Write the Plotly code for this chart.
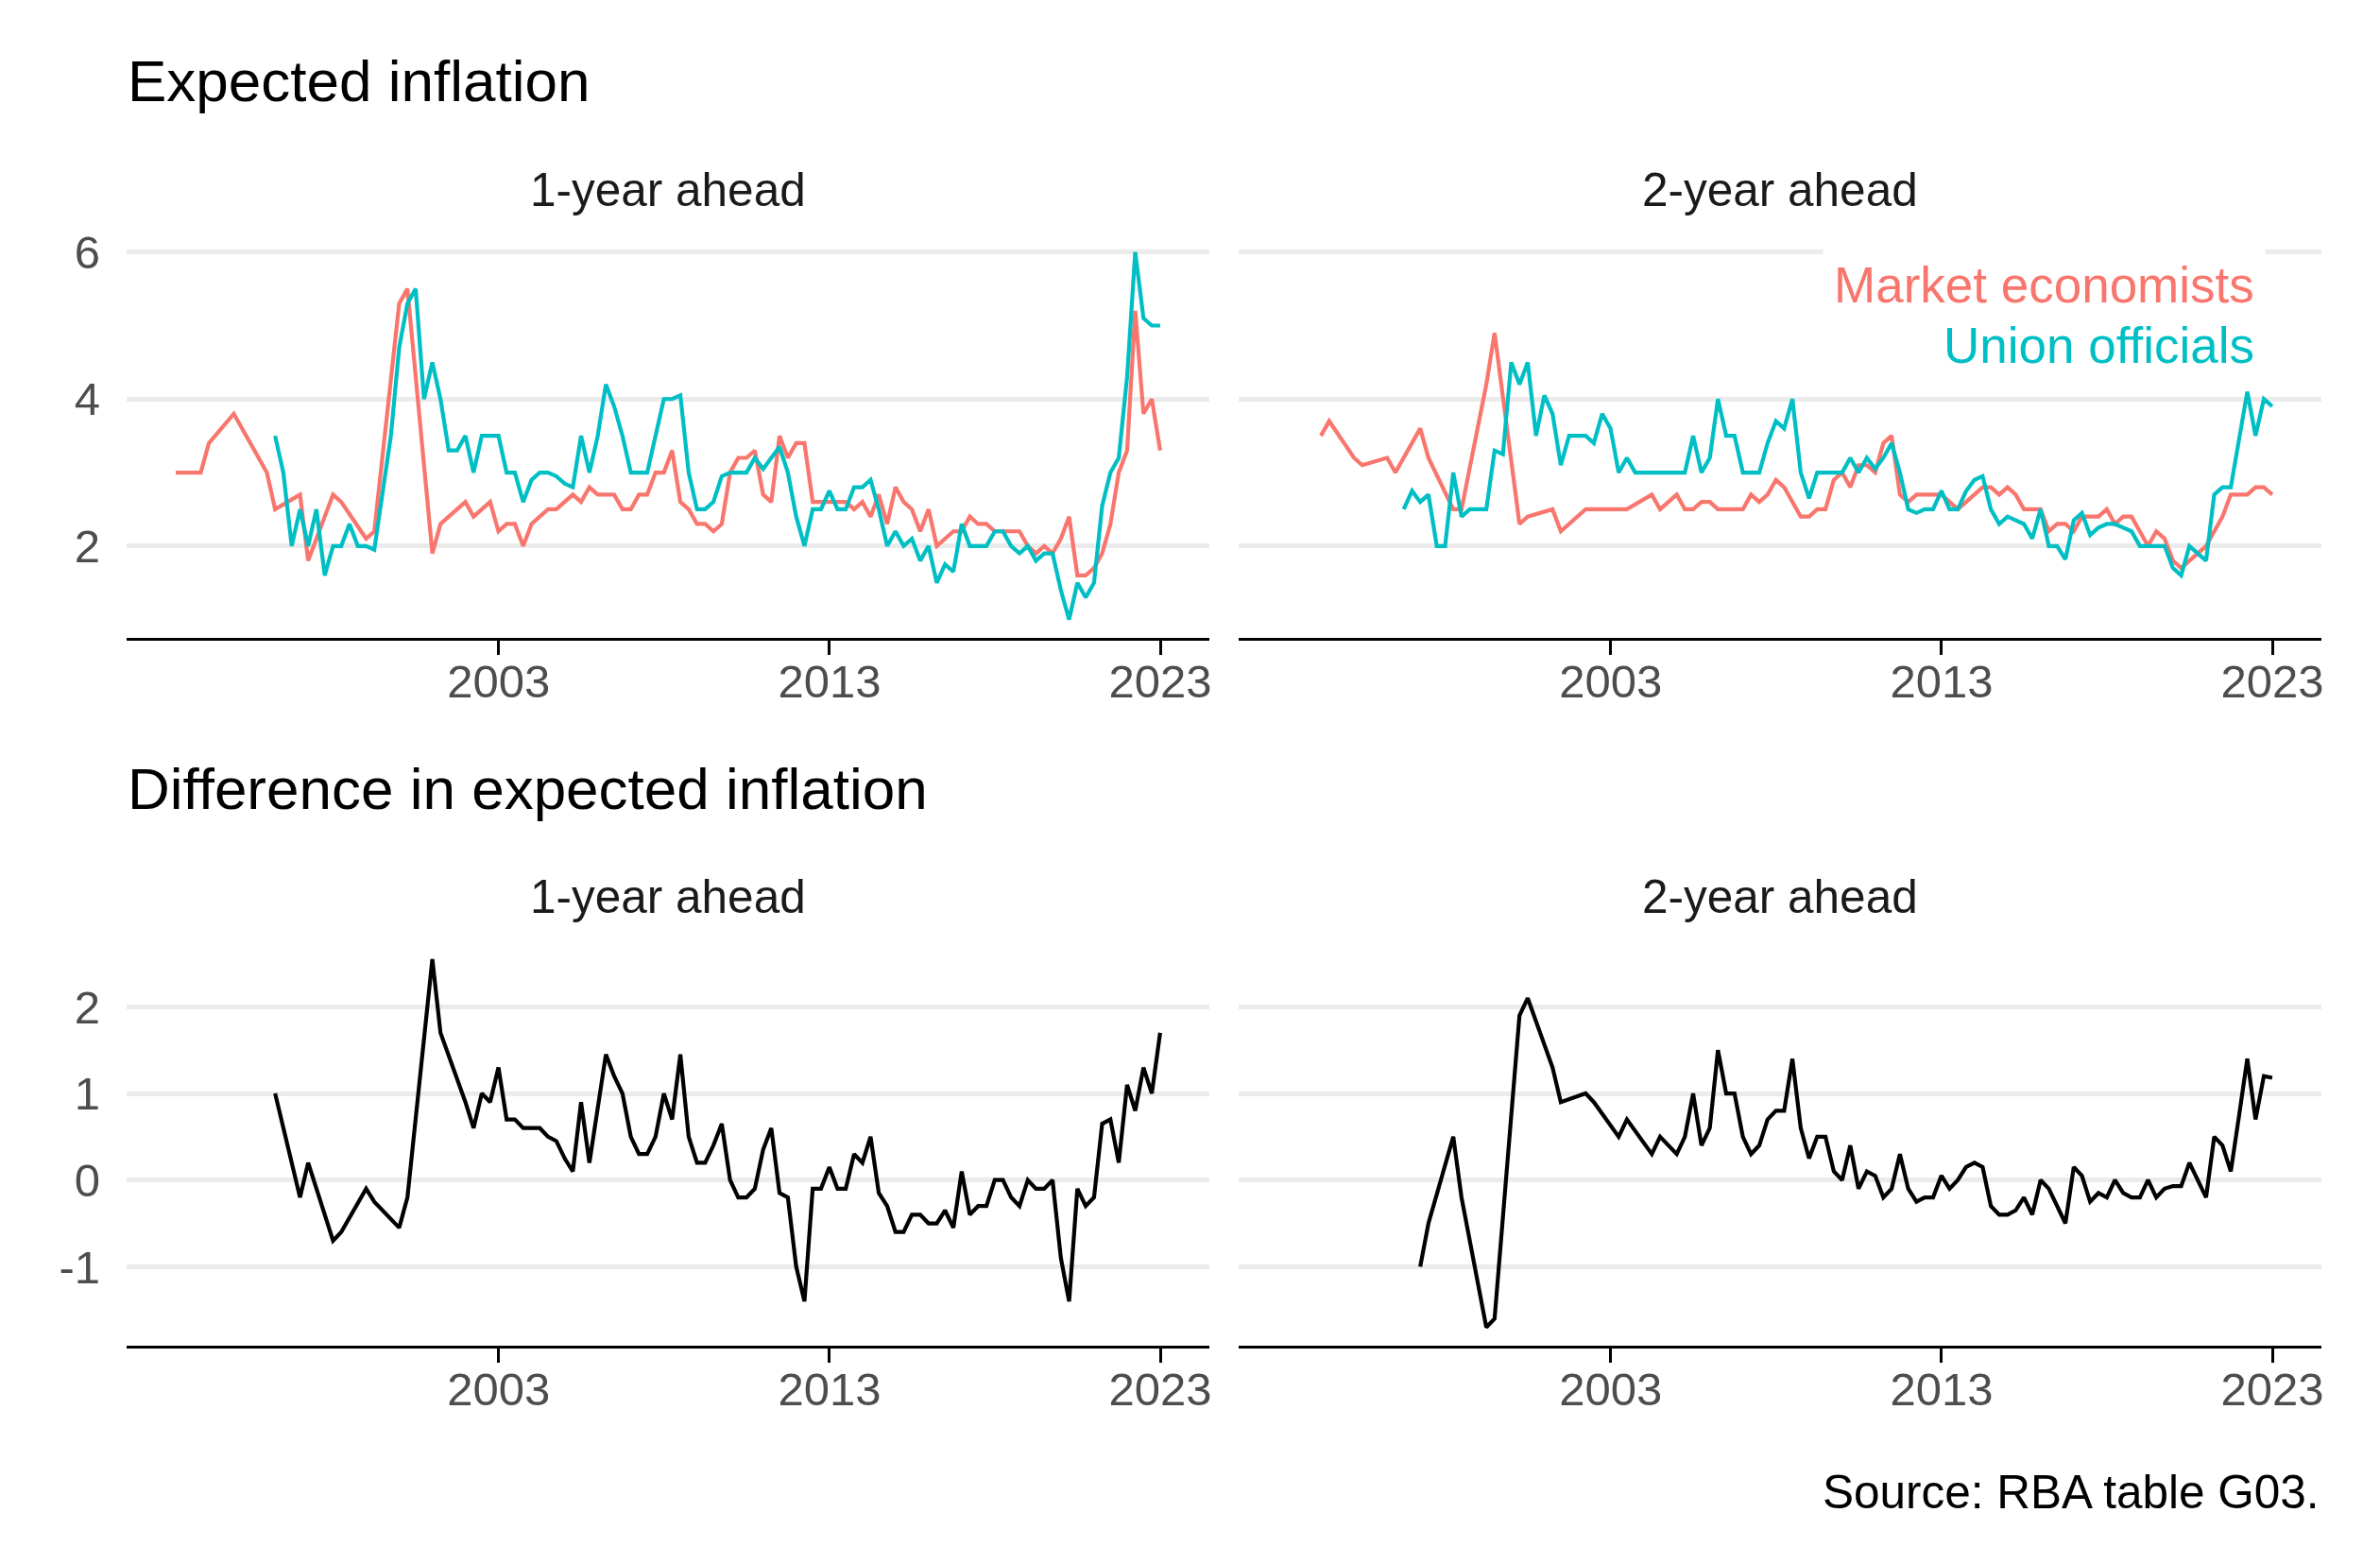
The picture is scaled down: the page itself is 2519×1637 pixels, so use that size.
import numpy as np
import pandas as pd
import plotly.graph_objects as go

# ---------------- data ----------------
series_names = ["Market economists", "Union officials"]
x_tick_years = [2003, 2013, 2023]
top_y_ticks = [2, 4, 6]
top_y_labels = ["2", "4", "6"]
bottom_y_ticks = [-1, 0, 1, 2]
bottom_y_labels = ["-1", "0", "1", "2"]

# 1-year ahead, market economists
one_year_market_dates = [
    "1993-03-31", "1993-12-31", "1994-03-31", "1994-12-31", "1995-12-31",
    "1996-03-31", "1996-12-31", "1997-03-31", "1997-12-31", "1998-03-31", "1998-12-31",
    "1999-03-31", "1999-12-31", "2000-03-31", "2000-12-31", "2001-03-31", "2001-12-31",
    "2002-03-31", "2002-09-30", "2002-12-31",
    "2003-03-31", "2003-06-30", "2003-09-30", "2003-12-31",
    "2004-06-30", "2004-09-30",
    "2005-03-31", "2005-06-30", "2005-09-30", "2005-12-31",
    "2006-06-30", "2006-09-30", "2006-12-31",
    "2007-03-31", "2007-06-30", "2007-09-30", "2007-12-31",
    "2008-03-31", "2008-06-30", "2008-09-30", "2008-12-31",
    "2009-03-31", "2009-06-30", "2009-09-30", "2009-12-31",
    "2010-03-31", "2010-06-30", "2010-09-30", "2010-12-31",
    "2011-03-31", "2011-06-30", "2011-09-30", "2011-12-31",
    "2012-03-31", "2012-06-30", "2012-09-30",
    "2013-06-30", "2013-09-30", "2013-12-31",
    "2014-03-31", "2014-06-30", "2014-09-30", "2014-12-31",
    "2015-03-31", "2015-06-30", "2015-09-30", "2015-12-31",
    "2016-03-31", "2016-06-30", "2016-09-30", "2016-12-31",
    "2017-03-31", "2017-06-30", "2017-09-30", "2017-12-31",
    "2018-09-30", "2018-12-31",
    "2019-03-31", "2019-06-30", "2019-09-30", "2019-12-31",
    "2020-03-31", "2020-06-30", "2020-09-30", "2020-12-31",
    "2021-03-31", "2021-06-30", "2021-09-30", "2021-12-31",
    "2022-03-31", "2022-06-30", "2022-09-30", "2022-12-31",
]
one_year_market = [
    3.0, 3.0, 3.4, 3.8, 3.0,
    2.5, 2.7, 1.8, 2.7, 2.6, 2.1,
    2.2, 5.3, 5.5, 1.9, 2.3, 2.6,
    2.4, 2.6, 2.2,
    2.3, 2.3, 2.0, 2.3,
    2.5, 2.5,
    2.7, 2.6, 2.8, 2.7,
    2.7, 2.5, 2.5,
    2.7, 2.7, 3.0, 3.0,
    3.3, 2.6, 2.5, 2.3,
    2.3, 2.2, 2.3, 3.0,
    3.2, 3.2, 3.3, 2.7,
    2.6, 3.5, 3.2, 3.4,
    3.4, 2.6, 2.6,
    2.6, 2.5, 2.6,
    2.4, 2.7, 2.3, 2.8,
    2.6, 2.5, 2.2, 2.5,
    2.0, 2.1, 2.2, 2.2,
    2.4, 2.3, 2.3, 2.2,
    2.2, 2.0,
    1.9, 2.0, 1.9, 2.1,
    2.4, 1.6, 1.6, 1.7,
    1.9, 2.3, 3.0, 3.3,
    5.2, 3.8, 4.0, 3.3,
]

# 1-year ahead, union officials
one_year_union_dates = [
    "1996-03-31", "1996-06-30", "1996-09-30", "1996-12-31",
    "1997-03-31", "1997-06-30", "1997-09-30", "1997-12-31",
    "1998-03-31", "1998-06-30", "1998-09-30", "1998-12-31",
    "1999-03-31", "1999-09-30", "1999-12-31",
    "2000-03-31", "2000-06-30", "2000-09-30", "2000-12-31",
    "2001-03-31", "2001-06-30", "2001-09-30", "2001-12-31",
    "2002-03-31", "2002-06-30", "2002-12-31",
    "2003-03-31", "2003-06-30", "2003-09-30", "2003-12-31",
    "2004-03-31", "2004-06-30", "2004-09-30", "2004-12-31",
    "2005-03-31", "2005-06-30", "2005-09-30", "2005-12-31",
    "2006-03-31", "2006-06-30", "2006-09-30", "2006-12-31",
    "2007-06-30", "2007-12-31",
    "2008-03-31", "2008-06-30", "2008-09-30", "2008-12-31",
    "2009-03-31", "2009-06-30", "2009-09-30", "2009-12-31",
    "2010-06-30", "2010-09-30", "2010-12-31",
    "2011-06-30", "2011-09-30", "2011-12-31",
    "2012-03-31", "2012-06-30", "2012-09-30", "2012-12-31",
    "2013-03-31", "2013-06-30", "2013-09-30", "2013-12-31",
    "2014-03-31", "2014-06-30", "2014-09-30", "2014-12-31",
    "2015-03-31", "2015-06-30", "2015-09-30", "2015-12-31",
    "2016-03-31", "2016-06-30", "2016-09-30", "2016-12-31",
    "2017-03-31", "2017-09-30", "2017-12-31",
    "2018-03-31", "2018-06-30", "2018-09-30", "2018-12-31",
    "2019-03-31", "2019-06-30", "2019-09-30", "2019-12-31",
    "2020-03-31", "2020-06-30", "2020-09-30", "2020-12-31",
    "2021-03-31", "2021-06-30", "2021-09-30", "2021-12-31",
    "2022-03-31", "2022-06-30", "2022-09-30", "2022-12-31",
]
one_year_union = [
    3.5, 3.0, 2.0, 2.5,
    2.0, 2.5, 1.6, 2.0,
    2.0, 2.3, 2.0, 2.0,
    1.95, 3.5, 4.7,
    5.3, 5.5, 4.0, 4.5,
    4.0, 3.3, 3.3, 3.5,
    3.0, 3.5, 3.5,
    3.0, 3.0, 2.6, 2.9,
    3.0, 3.0, 2.95, 2.85,
    2.8, 3.5, 3.0, 3.5,
    4.2, 3.9, 3.5, 3.0,
    3.0, 4.0,
    4.0, 4.05, 3.0, 2.5,
    2.5, 2.6, 2.95, 3.0,
    3.0, 3.2, 3.05,
    3.35, 3.0, 2.4,
    2.0, 2.5, 2.5, 2.75,
    2.5, 2.5, 2.8, 2.8,
    2.9, 2.5, 2.0, 2.2,
    2.0, 2.1, 1.8, 2.0,
    1.5, 1.75, 1.65, 2.3,
    2.0, 2.0, 2.2,
    2.2, 2.0, 1.9, 2.0,
    1.8, 1.9, 1.9, 1.4,
    1.0, 1.5, 1.3, 1.5,
    2.55, 3.0, 3.2, 4.3,
    6.0, 5.1, 5.0, 5.0,
]

# 2-year ahead, market economists
two_year_market_dates = [
    "1994-03-31", "1994-06-30", "1995-03-31", "1995-06-30",
    "1996-03-31", "1996-06-30", "1997-03-31", "1997-06-30",
    "1998-03-31", "1998-06-30", "1999-03-31", "1999-06-30",
    "2000-03-31", "2000-06-30", "2001-03-31", "2001-06-30",
    "2002-03-31", "2003-06-30",
    "2004-03-31", "2004-06-30", "2004-12-31",
    "2005-03-31", "2005-06-30", "2005-09-30", "2005-12-31",
    "2006-03-31", "2006-12-31",
    "2007-03-31", "2007-06-30", "2007-09-30", "2007-12-31",
    "2008-03-31", "2008-09-30", "2008-12-31",
    "2009-03-31", "2009-06-30", "2009-09-30", "2009-12-31",
    "2010-03-31", "2010-06-30", "2010-09-30", "2010-12-31",
    "2011-03-31", "2011-06-30", "2011-09-30", "2011-12-31",
    "2012-03-31", "2012-12-31",
    "2013-06-30", "2013-09-30",
    "2014-03-31", "2014-06-30", "2014-09-30", "2014-12-31",
    "2015-03-31", "2015-06-30", "2015-12-31",
    "2016-03-31", "2016-06-30", "2016-09-30", "2016-12-31",
    "2017-03-31", "2017-06-30", "2017-09-30", "2017-12-31",
    "2018-03-31", "2018-06-30", "2018-09-30", "2018-12-31",
    "2019-03-31", "2019-06-30", "2019-09-30", "2019-12-31",
    "2020-03-31", "2020-06-30", "2020-09-30", "2020-12-31",
    "2021-03-31", "2021-06-30", "2021-09-30",
    "2022-03-31", "2022-06-30", "2022-09-30", "2022-12-31",
]
two_year_market = [
    3.5, 3.7, 3.2, 3.1,
    3.2, 3.0, 3.6, 3.2,
    2.5, 2.5, 4.2, 4.9,
    2.3, 2.4, 2.5, 2.2,
    2.5, 2.5,
    2.7, 2.5, 2.7,
    2.5, 2.5, 2.6, 2.6,
    2.5, 2.5,
    2.7, 2.6, 2.7, 2.9,
    2.8, 2.4, 2.4,
    2.5, 2.5, 2.9, 3.0,
    2.8, 3.1, 3.1, 3.0,
    3.4, 3.5, 2.7, 2.6,
    2.7, 2.7,
    2.5, 2.6,
    2.8, 2.8, 2.7, 2.8,
    2.7, 2.5, 2.5,
    2.2, 2.3, 2.3, 2.2,
    2.4, 2.4, 2.4, 2.5,
    2.3, 2.4, 2.4, 2.2,
    2.0, 2.2, 2.1, 1.8,
    1.7, 1.8, 1.9, 2.0,
    2.2, 2.4, 2.7,
    2.7, 2.8, 2.8, 2.7,
]

# 2-year ahead, union officials
two_year_union_dates = [
    "1996-09-30", "1996-12-31",
    "1997-03-31", "1997-06-30", "1997-09-30", "1997-12-31",
    "1998-03-31", "1998-06-30", "1998-09-30",
    "1999-03-31", "1999-06-30", "1999-09-30", "1999-12-31",
    "2000-03-31", "2000-06-30", "2000-09-30", "2000-12-31",
    "2001-03-31", "2001-06-30", "2001-09-30",
    "2002-03-31", "2002-06-30", "2002-09-30", "2002-12-31",
    "2003-03-31", "2003-06-30", "2003-09-30",
    "2005-03-31", "2005-06-30", "2005-09-30", "2005-12-31",
    "2006-03-31", "2006-06-30", "2006-09-30", "2006-12-31",
    "2007-06-30", "2007-09-30", "2007-12-31",
    "2008-03-31", "2008-06-30", "2008-09-30", "2008-12-31",
    "2009-03-31", "2009-12-31",
    "2010-03-31", "2010-06-30", "2010-09-30", "2010-12-31",
    "2011-03-31", "2011-06-30", "2011-09-30", "2011-12-31",
    "2012-03-31", "2012-06-30", "2012-09-30", "2012-12-31",
    "2013-03-31", "2013-06-30", "2013-09-30", "2013-12-31",
    "2014-03-31", "2014-06-30", "2014-09-30", "2014-12-31",
    "2015-06-30", "2015-09-30", "2015-12-31",
    "2016-03-31", "2016-06-30", "2016-09-30", "2016-12-31",
    "2017-03-31", "2017-06-30", "2017-09-30", "2017-12-31",
    "2018-03-31", "2018-06-30", "2018-09-30", "2018-12-31",
    "2019-09-30", "2019-12-31",
    "2020-03-31", "2020-06-30", "2020-09-30", "2020-12-31",
    "2021-03-31", "2021-06-30", "2021-09-30", "2021-12-31",
    "2022-03-31", "2022-06-30", "2022-09-30", "2022-12-31",
]
two_year_union = [
    2.5, 2.75,
    2.6, 2.7, 2.0, 2.0,
    3.0, 2.4, 2.5,
    2.5, 3.3, 3.25, 4.5,
    4.2, 4.5, 3.5, 4.05,
    3.8, 3.1, 3.5,
    3.5, 3.4, 3.8, 3.6,
    3.0, 3.2, 3.0,
    3.0, 3.5, 3.0, 3.2,
    4.0, 3.5, 3.5, 3.0,
    3.0, 3.4, 3.7,
    3.6, 4.0, 3.0, 2.65,
    3.0, 3.0,
    3.2, 3.0, 3.2, 3.05,
    3.2, 3.4, 3.0, 2.5,
    2.45, 2.5, 2.5, 2.75,
    2.5, 2.5, 2.75, 2.9,
    2.95, 2.5, 2.3, 2.4,
    2.3, 2.1, 2.5,
    2.0, 2.0, 1.82, 2.35,
    2.45, 2.15, 2.25, 2.3,
    2.3, 2.25, 2.2, 2.0,
    2.0, 1.7,
    1.6, 2.0, 1.9, 1.8,
    2.7, 2.8, 2.8, 3.5,
    4.1, 3.5, 4.0, 3.9,
]

# Difference (union officials minus market economists), 1-year ahead
one_year_diff_dates = [
    "1996-03-31", "1996-12-31", "1997-03-31", "1997-12-31", "1998-03-31", "1998-12-31",
    "1999-03-31", "1999-12-31", "2000-03-31", "2000-12-31", "2001-03-31", "2001-12-31",
    "2002-03-31", "2002-06-30", "2002-09-30", "2002-12-31",
    "2003-03-31", "2003-06-30", "2003-09-30",
    "2004-03-31", "2004-06-30", "2004-09-30", "2004-12-31",
    "2005-03-31", "2005-06-30", "2005-09-30",
    "2006-03-31", "2006-06-30", "2006-09-30", "2006-12-31",
    "2007-03-31", "2007-06-30", "2007-09-30", "2007-12-31",
    "2008-03-31", "2008-06-30", "2008-09-30", "2008-12-31",
    "2009-03-31", "2009-06-30", "2009-09-30", "2009-12-31",
    "2010-03-31", "2010-06-30", "2010-09-30", "2010-12-31",
    "2011-03-31", "2011-06-30", "2011-09-30", "2011-12-31",
    "2012-03-31", "2012-06-30", "2012-09-30", "2012-12-31",
    "2013-03-31", "2013-06-30", "2013-09-30", "2013-12-31",
    "2014-03-31", "2014-06-30", "2014-09-30", "2014-12-31",
    "2015-03-31", "2015-06-30", "2015-09-30", "2015-12-31",
    "2016-03-31", "2016-06-30", "2016-09-30", "2016-12-31",
    "2017-03-31", "2017-06-30", "2017-09-30", "2017-12-31",
    "2018-03-31", "2018-06-30", "2018-09-30", "2018-12-31",
    "2019-03-31", "2019-06-30", "2019-09-30", "2019-12-31",
    "2020-03-31", "2020-06-30", "2020-09-30", "2020-12-31",
    "2021-03-31", "2021-06-30", "2021-09-30", "2021-12-31",
    "2022-03-31", "2022-06-30", "2022-09-30", "2022-12-31",
]
one_year_diff = [
    1.0, -0.2, 0.2, -0.7, -0.6, -0.1,
    -0.25, -0.55, -0.2, 2.55, 1.7, 0.9,
    0.6, 1.0, 0.9, 1.3,
    0.7, 0.7, 0.6,
    0.6, 0.5, 0.45, 0.25,
    0.1, 0.9, 0.2,
    1.45, 1.2, 1.0, 0.5,
    0.3, 0.3, 0.5, 1.0,
    0.7, 1.45, 0.5, 0.2,
    0.2, 0.4, 0.65, 0.0,
    -0.2, -0.2, -0.1, 0.35,
    0.6, -0.15, -0.2, -1.0,
    -1.4, -0.1, -0.1, 0.15,
    -0.1, -0.1, 0.3, 0.2,
    0.5, -0.15, -0.3, -0.6,
    -0.6, -0.4, -0.4, -0.5,
    -0.5, -0.35, -0.55, 0.1,
    -0.4, -0.3, -0.3, 0.0,
    0.0, -0.2, -0.3, 0.0,
    -0.1, -0.1, 0.0, -0.9,
    -1.4, -0.1, -0.3, -0.2,
    0.65, 0.7, 0.2, 1.1,
    0.8, 1.3, 1.0, 1.7,
]

# Difference (union officials minus market economists), 2-year ahead
two_year_diff_dates = [
    "1997-03-31", "1997-06-30", "1998-03-31", "1998-06-30",
    "1999-03-31", "1999-06-30", "2000-03-31", "2000-06-30",
    "2001-03-31", "2001-06-30", "2002-03-31", "2002-06-30",
    "2003-03-31", "2003-06-30",
    "2004-03-31", "2004-06-30", "2004-12-31",
    "2005-03-31", "2005-06-30", "2005-09-30", "2005-12-31",
    "2006-03-31", "2006-06-30", "2006-09-30", "2006-12-31",
    "2007-03-31", "2007-06-30", "2007-09-30", "2007-12-31",
    "2008-03-31", "2008-06-30", "2008-09-30", "2008-12-31",
    "2009-03-31", "2009-06-30", "2009-09-30", "2009-12-31",
    "2010-03-31", "2010-06-30", "2010-09-30", "2010-12-31",
    "2011-03-31", "2011-06-30", "2011-09-30", "2011-12-31",
    "2012-03-31", "2012-06-30", "2012-09-30", "2012-12-31",
    "2013-03-31", "2013-06-30", "2013-09-30", "2013-12-31",
    "2014-03-31", "2014-06-30", "2014-09-30", "2014-12-31",
    "2015-03-31", "2015-06-30", "2015-09-30", "2015-12-31",
    "2016-03-31", "2016-09-30", "2016-12-31",
    "2017-03-31", "2017-06-30", "2017-09-30", "2017-12-31",
    "2018-03-31", "2018-06-30", "2018-09-30", "2018-12-31",
    "2019-03-31", "2019-06-30", "2019-09-30", "2019-12-31",
    "2020-03-31", "2020-06-30", "2020-12-31",
    "2021-03-31", "2021-06-30", "2021-09-30", "2021-12-31",
    "2022-03-31", "2022-06-30", "2022-09-30", "2022-12-31",
]
two_year_diff = [
    -1.0, -0.5, 0.5, -0.2,
    -1.7, -1.6, 1.9, 2.1,
    1.3, 0.9, 1.0, 0.9,
    0.5, 0.7,
    0.3, 0.5, 0.3,
    0.5, 1.0, 0.4, 0.6,
    1.5, 1.0, 1.0, 0.5,
    0.3, 0.4, 0.7, 0.8,
    0.8, 1.4, 0.6, 0.25,
    0.5, 0.5, 0.1, 0.0,
    0.4, -0.1, 0.1, 0.05,
    -0.2, -0.1, 0.3, -0.1,
    -0.25, -0.2, -0.2, 0.05,
    -0.1, 0.0, 0.15, 0.2,
    0.15, -0.3, -0.4, -0.4,
    -0.35, -0.2, -0.4, 0.0,
    -0.1, -0.5, 0.15,
    0.05, -0.25, -0.15, -0.2,
    0.0, -0.15, -0.2, -0.2,
    0.0, -0.2, -0.1, -0.07,
    -0.07, 0.2, -0.2,
    0.5, 0.4, 0.1, 0.75,
    1.4, 0.7, 1.2, 1.18,
]

for d, v in [(one_year_market_dates, one_year_market), (one_year_union_dates, one_year_union),
             (two_year_market_dates, two_year_market), (two_year_union_dates, two_year_union),
             (one_year_diff_dates, one_year_diff), (two_year_diff_dates, two_year_diff)]:
    if len(d) != len(v):
        raise ValueError(f"length mismatch {len(d)} vs {len(v)} starting {d[0]}")

# ---------------- style / layout ----------------
W, H = 2519, 1637
FONT = "Liberation Sans, Arial, Helvetica, sans-serif"
RED, TEAL, BLACK = "#F8766D", "#00BFC4", "#000000"
LW = 4.2

# panel pixel boxes (left, right), (top, bottom)
PX_L, PX_R = (134, 1280), (1311, 2457)
PY_T, PY_B = (247.3, 675.0), (995.5, 1424.0)


def xdom(p):
    return [p[0] / W, p[1] / W]


def ydom(p):
    return [1 - p[1] / H, 1 - p[0] / H]


def expand(vals, frac=0.05):
    lo, hi = float(np.min(vals)), float(np.max(vals))
    pad = (hi - lo) * frac
    return [lo - pad, hi + pad]


all_dates = pd.to_datetime(one_year_market_dates + one_year_union_dates +
                           two_year_market_dates + two_year_union_dates)
dmin, dmax = all_dates.min(), all_dates.max()
span = dmax - dmin
x_range = [(dmin - span * 0.05).strftime("%Y-%m-%d %H:%M"),
           (dmax + span * 0.05).strftime("%Y-%m-%d %H:%M")]
top_range = expand(one_year_market + one_year_union + two_year_market + two_year_union)
bottom_range = expand(one_year_diff + two_year_diff)

fig = go.Figure()


def add_line(x, y, color, xa, ya):
    fig.add_trace(go.Scatter(x=x, y=y, mode="lines", xaxis=xa, yaxis=ya,
                             line=dict(color=color, width=LW), showlegend=False,
                             hoverinfo="skip"))


add_line(one_year_market_dates, one_year_market, RED, "x", "y")
add_line(one_year_union_dates, one_year_union, TEAL, "x", "y")
add_line(two_year_market_dates, two_year_market, RED, "x2", "y2")
add_line(two_year_union_dates, two_year_union, TEAL, "x2", "y2")
add_line(one_year_diff_dates, one_year_diff, BLACK, "x3", "y3")
add_line(two_year_diff_dates, two_year_diff, BLACK, "x4", "y4")

tick_font = dict(family=FONT, size=49, color="#4D4D4D")
x_tickvals = [f"{yr}-01-01" for yr in x_tick_years]
x_ticktext = [str(yr) for yr in x_tick_years]


def xaxis(dom, anchor):
    return dict(domain=dom, anchor=anchor, type="date", range=x_range,
                tickmode="array", tickvals=x_tickvals, ticktext=x_ticktext,
                ticks="outside", ticklen=15, tickwidth=2.7, tickcolor="black",
                showline=True, linecolor="black", linewidth=2.7,
                showgrid=False, zeroline=False, tickfont=tick_font,
                ticklabelstandoff=-14, fixedrange=True)


def yaxis(dom, anchor, rng, tv, tt, show):
    return dict(domain=dom, anchor=anchor, range=rng, tickmode="array",
                tickvals=tv, ticktext=tt, showticklabels=show,
                showgrid=True, gridcolor="#EBEBEB", gridwidth=5,
                zeroline=False, showline=False, ticks="",
                tickfont=tick_font, ticklabelstandoff=27, fixedrange=True)


layout = dict(
    width=W, height=H, margin=dict(l=0, r=0, t=0, b=0),
    paper_bgcolor="white", plot_bgcolor="white", template="none",
    font=dict(family=FONT),
    xaxis=xaxis(xdom(PX_L), "y"), yaxis=yaxis(ydom(PY_T), "x", top_range, top_y_ticks, top_y_labels, True),
    xaxis2=xaxis(xdom(PX_R), "y2"), yaxis2=yaxis(ydom(PY_T), "x2", top_range, top_y_ticks, top_y_labels, False),
    xaxis3=xaxis(xdom(PX_L), "y3"), yaxis3=yaxis(ydom(PY_B), "x3", bottom_range, bottom_y_ticks, bottom_y_labels, True),
    xaxis4=xaxis(xdom(PX_R), "y4"), yaxis4=yaxis(ydom(PY_B), "x4", bottom_range, bottom_y_ticks, bottom_y_labels, False),
)
fig.update_layout(**layout)


def ann(text, xpx, ypx, size, color, xanchor="center", yanchor="middle", **kw):
    fig.add_annotation(text=text, x=xpx / W, y=1 - ypx / H, xref="paper", yref="paper",
                       xanchor=xanchor, yanchor=yanchor, showarrow=False,
                       font=dict(family=FONT, size=size, color=color), **kw)


ann("Expected inflation", 133, 86, 62, "black", xanchor="left")
ann("Difference in expected inflation", 133, 835, 62, "black", xanchor="left")
for ycen in (200.5, 948.5):
    ann("1-year ahead", (PX_L[0] + PX_L[1]) / 2, ycen, 49.5, "#1A1A1A")
    ann("2-year ahead", (PX_R[0] + PX_R[1]) / 2, ycen, 49.5, "#1A1A1A")
ann("Source: RBA table G03.", PX_R[1], 1578, 49.5, "black", xanchor="right")

# legend (right-aligned coloured labels inside the 2-year panel)
ann(series_names[0], 2398, 301.6, 53, RED, xanchor="right", bgcolor="white", borderpad=11)
ann(series_names[1], 2388, 365.6, 53, TEAL, xanchor="right")

fig.write_html("out.html", config={"displayModeBar": False},
               post_script="document.body.style.margin='0';document.body.style.overflow='hidden';")
